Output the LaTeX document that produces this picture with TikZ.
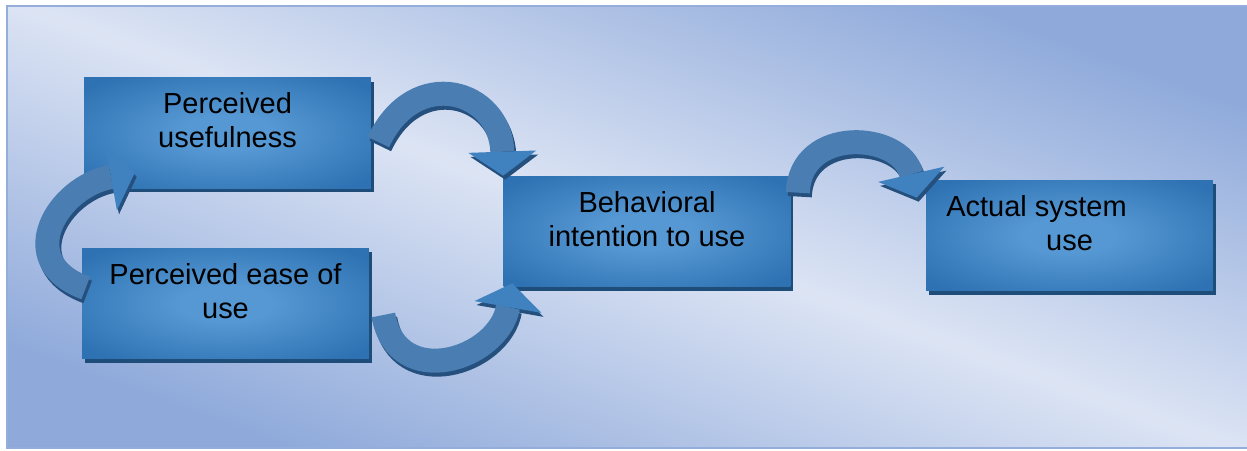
\documentclass[tikz,border=0pt]{standalone}
\usepackage{fontspec}
\setmainfont{Liberation Sans}
\usetikzlibrary{arrows.meta,shadows}
\definecolor{bglight}{HTML}{DCE4F4}
\definecolor{bgblue}{HTML}{8EA9DA}
\definecolor{bgline}{HTML}{94ADDA}
\definecolor{boxedge}{HTML}{2E72B3}
\definecolor{boxmid}{HTML}{5698D3}
\definecolor{boxshade}{HTML}{1F4D7A}
\definecolor{turnblue}{HTML}{4A7EB2}
\definecolor{turnhead}{HTML}{4082C0}
\definecolor{turnshade}{HTML}{25507E}
\pgfdeclareradialshading{boxglow}{\pgfpoint{0bp}{0bp}}{color(0bp)=(boxmid); color(8bp)=(boxmid); color(32bp)=(boxedge); color(50bp)=(boxedge)}
\tikzset{
  stage/.style={shade, shading=boxglow, minimum width=5.74cm, minimum height=2.22cm,
    align=center, text height=1.08cm, text depth=0.48cm,
    font=\fontsize{16.5}{19.4}\selectfont,
    drop shadow={shadow xshift=0.06cm, shadow yshift=-0.08cm, fill=boxshade, opacity=1}},
  turn/.style={line width=0.48cm, draw=turnblue,
    -{Triangle[line width=0pt, width=1.36cm, length=0.48cm, color=turnhead]}},
  turnback/.style={line width=0.48cm, draw=turnshade,
    -{Triangle[line width=0pt, width=1.36cm, length=0.48cm]},
    transform canvas={shift={(0.04cm,-0.08cm)}}}
}
\begin{document}
\begin{tikzpicture}[x=0.02cm, y=0.02cm]
    \useasboundingbox (0,0) rectangle (1247,450);
    \shade[left color=bgblue, right color=bgblue, middle color=bglight, shading angle=160,
      draw=bgline, line width=1.1pt] (7,2) rectangle (1252,444);
    % boxes
    \node[stage] (pu) at (227.5,317) {Perceived\\usefulness};
    \node[stage] (peu) at (225.5,146.5) {Perceived ease of\\use};
    \node[stage] (bi) at (647,218.5) {Behavioral\\intention to use};
    \node[stage] (asu) at (1069.5,214.5) {Actual system\kern1.32cm\\use};
    % ends of the curved arrows
    \coordinate (pu-out) at ([xshift=0.14cm,yshift=-0.18cm]pu.east);
    \coordinate (peu-out) at ([xshift=0.28cm,yshift=-0.23cm]peu.east);
    \coordinate (peu-back) at ([xshift=0.08cm,yshift=0.31cm]peu.west);
    \coordinate (pu-in) at ([xshift=1.02cm,yshift=0.32cm]pu.south west);
    \coordinate (bi-top) at (bi.north west);
    \coordinate (bi-bot) at ([xshift=0.18cm,yshift=0.08cm]bi.south west);
    \coordinate (bi-out) at ([xshift=0.14cm,yshift=-0.34cm]bi.north east);
    \coordinate (asu-in) at ([xshift=-0.18cm,yshift=-0.36cm]asu.north west);
    \foreach \a/\b/\o/\i/\l in {pu-out/bi-top/65/92/1.7, peu-out/bi-bot/-80/-100/1.5,
      peu-back/pu-in/160/190/1.6, bi-out/asu-in/88/103/1.45}{
      \draw[turnback] (\a) to[out=\o,in=\i,looseness=\l] (\b);
      \draw[turn] (\a) to[out=\o,in=\i,looseness=\l] (\b);
    }
\end{tikzpicture}
\end{document}
